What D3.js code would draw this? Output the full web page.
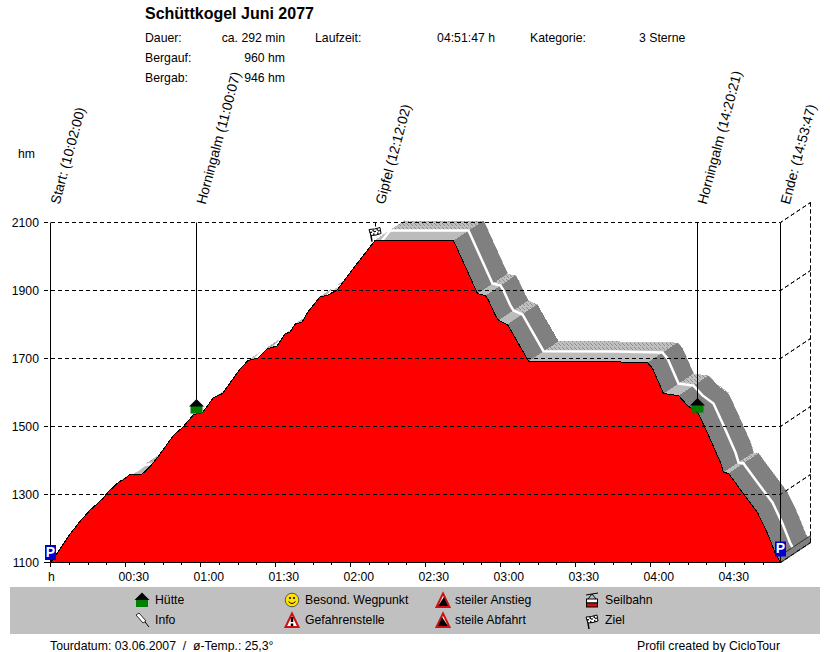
<!DOCTYPE html>
<html>
<head>
<meta charset="utf-8">
<script src="https://d3js.org/d3.v7.min.js"></script>
<style>
  html, body { margin: 0; padding: 0; background: #fff; }
  svg { display: block; }
  text { font-family: "Liberation Sans", Arial, sans-serif; font-size: 12.25px; fill: #000; white-space: pre; }
</style>
</head>
<body>
<div id="chart"></div>
<script>
// profile: minutes since start / altitude in hm
const minutes = [0, 2.2, 7.1, 11.1, 15.8, 21.1, 23.1, 27.5, 29, 31.8, 36.5, 39.8, 42.8, 49.2, 52.8, 57.2, 60.8, 65.2, 68.8, 75.8, 79, 83, 86.6, 90.6, 93.8, 95.8, 97.8, 100.6, 103, 107.8, 111, 114.6, 120.6, 129.8, 161.2, 170.8, 174, 175.2, 178, 179.2, 182.8, 191.2, 220, 238.8, 240.8, 245.2, 251.2, 254.8, 259.2, 263.2, 268, 269.2, 271.2, 276.8, 282.8, 286.8, 290, 292];
const altitude = [1100, 1122, 1176, 1215, 1254, 1289, 1308, 1338, 1343, 1359, 1359, 1382, 1409, 1474, 1497, 1535, 1541, 1585, 1597, 1669, 1694, 1701, 1728, 1737, 1772, 1778, 1801, 1807, 1837, 1881, 1887, 1901, 1960, 2047, 2047, 1891, 1885, 1871, 1826, 1812, 1800, 1692, 1691, 1688, 1671, 1597, 1591, 1562, 1538, 1474, 1394, 1365, 1362, 1306, 1247, 1185, 1126, 1100];

const altTicks = [1100, 1300, 1500, 1700, 1900, 2100];
const timeTicks = [30, 60, 90, 120, 150, 180, 210, 240, 270];
const timeLabels = ["00:30", "01:00", "01:30", "02:00", "02:30", "03:00", "03:30", "04:00", "04:30"];

// waypoints
const wpMinutes = [0, 58.3, 130.03, 258.6, 292];
const wpAlt = [1100, 1535, 2047, 1538, 1100];
const wpNames = ["Start: (10:02:00)", "Horningalm (11:00:07)", "Gipfel (12:12:02)", "Horningalm (14:20:21)", "Ende: (14:53:47)"];
const wpIcons = ["park", "hut", "flag", "hut", "park"];

const legendCol1 = [["hut", "Hütte"], ["pin", "Info"]];
const legendCol2 = [["smile", "Besond. Wegpunkt"], ["danger", "Gefahrenstelle"]];
const legendCol3 = [["up", "steiler Anstieg"], ["down", "steile Abfahrt"]];
const legendCol4 = [["lift", "Seilbahn"], ["flag", "Ziel"]];

const infoRows = [
  ["Dauer:", "ca. 292 min"],
  ["Bergauf:", "960 hm"],
  ["Bergab:", "946 hm"]
];

const width = 830, height = 652;
const depthX = 30, depthY = 20;

const x = d3.scaleLinear().domain([0, 292]).range([50.5, 780.5]);
const y = d3.scaleLinear().domain([1100, 2100]).range([562.5, 222.5]);

const svg = d3.select("#chart").append("svg").attr("width", width).attr("height", height);

// dithered light grey of the flat stretches
const defs = svg.append("defs");
const hatch = defs.append("pattern").attr("id", "hatch")
  .attr("patternUnits", "userSpaceOnUse").attr("width", 4).attr("height", 4);
hatch.append("rect").attr("width", 4).attr("height", 4).attr("fill", "#c0c0c0");
hatch.append("path").attr("d", "M0,1 h1 v1 h-1 Z M2,3 h1 v1 h-1 Z M3,0 h1 v1 h-1 Z").attr("fill", "#8c8c8c");

const profile = minutes.map((m, i) => [x(m), y(altitude[i])]);

// back wall lines
const grid = svg.append("g").attr("fill", "none").attr("stroke", "#000").attr("stroke-dasharray", "4 3");
altTicks.forEach(a => {
  grid.append("path").attr("d", `M44,${y(a)} H${x(292)} l${depthX},${-depthY}`);
});
grid.append("path").attr("d", `M${x(292) + depthX},${y(2100) - depthY} V${y(1100) - depthY}`);

svg.append("line").attr("x1", 44).attr("x2", 50).attr("y1", y(1100)).attr("y2", y(1100)).attr("stroke", "#000");

// extruded ribbon, one quad per segment, back to front
const ribbon = svg.append("g").attr("shape-rendering", "crispEdges");
const quad = (p, q, a, b) => `M${p[0] + a * depthX},${p[1] - a * depthY} L${q[0] + a * depthX},${q[1] - a * depthY} L${q[0] + b * depthX},${q[1] - b * depthY} L${p[0] + b * depthX},${p[1] - b * depthY} Z`;
profile.slice(0, -1).forEach((p, i) => {
  const q = profile[i + 1];
  const flat = Math.abs(q[1] - p[1]) / (q[0] - p[0]) < 0.6;
  if (flat) {
    // rear half dithered, front half plain
    ribbon.append("path").attr("d", quad(p, q, 0.5, 1)).attr("fill", "url(#hatch)");
    ribbon.append("path").attr("d", quad(p, q, 0, 0.5)).attr("fill", "#bcbcbc");
  } else {
    ribbon.append("path").attr("d", quad(p, q, 0, 1)).attr("fill", "#808080").attr("stroke", "#808080").attr("stroke-width", 0.5);
  }
});

// white centre line of the ribbon
const midLine = d3.line().x(d => d[0] + depthX / 2).y(d => d[1] - depthY / 2);
svg.append("path").attr("d", midLine(profile))
  .attr("fill", "none").attr("stroke", "#fff").attr("stroke-width", 2.5);

// red profile
const area = d3.area().x(d => d[0]).y0(y(1100)).y1(d => d[1]);
svg.append("path").attr("d", area(profile)).attr("fill", "#ff0000").attr("shape-rendering", "crispEdges");
svg.append("path").attr("d", d3.line()(profile)).attr("fill", "none").attr("stroke", "#000").attr("stroke-width", 1).attr("shape-rendering", "crispEdges");

// floor edge at the right
svg.append("path")
  .attr("d", `M${x(292)},${y(1100)} l${depthX},${-depthY} v-7 l${-depthX},${depthY} Z`)
  .attr("fill", "#808080").attr("stroke", "#000").attr("stroke-width", 0.6);

// gridlines seen through the red
grid.clone(true).raise();

// y axis labels
svg.append("g").selectAll("text").data(altTicks).join("text")
  .attr("x", 39).attr("y", d => y(d) + 4).attr("text-anchor", "end").text(d => d);
svg.append("text").attr("x", 18).attr("y", 158).text("hm");

// x axis
const xAxis = svg.append("g").attr("shape-rendering", "crispEdges");
xAxis.append("line").attr("x1", x(0)).attr("x2", x(292)).attr("y1", y(1100)).attr("y2", y(1100)).attr("stroke", "#000");
d3.range(0, 292, 7.5).forEach(t => {
  xAxis.append("line").attr("x1", x(t)).attr("x2", x(t)).attr("y1", y(1100))
    .attr("y2", y(1100) + (t % 30 === 0 ? 4 : 2)).attr("stroke", "#000");
});
xAxis.selectAll("text").data(timeTicks).join("text")
  .attr("x", d => x(d) - 7).attr("y", 581).text((d, i) => timeLabels[i]);
xAxis.append("text").attr("x", 48).attr("y", 581).text("h");

// waypoint stems and rotated labels
wpMinutes.forEach((m, i) => {
  const px = Math.floor(x(m)) + 0.5;
  const kind = wpIcons[i];
  const stemEnd = kind === "park" ? y(wpAlt[i]) : y(wpAlt[i]) - 14;
  svg.append("line").attr("x1", px).attr("x2", px).attr("y1", y(2100)).attr("y2", stemEnd).attr("stroke", "#000");
  svg.append("text").attr("transform", `translate(${px + 9},205) rotate(-75)`).style("font-size", "13.8px").text(wpNames[i]);
  if (kind === "hut") drawIcon(kind, px, y(wpAlt[i]) - 8);
  else if (kind === "flag") drawIcon(kind, px - 0.5, y(wpAlt[i]) - 8);
  else drawIcon(kind, px, y(wpAlt[i]) - (i === 0 ? 10 : 13.5));
});

// header
svg.append("text").attr("x", 145).attr("y", 19).style("font-size", "16px").style("font-weight", "bold").text("Schüttkogel Juni 2077");
infoRows.forEach((r, i) => {
  const ry = 42 + i * 20;
  svg.append("text").attr("x", 145).attr("y", ry).text(r[0]);
  svg.append("text").attr("x", 285).attr("y", ry).attr("text-anchor", "end").text(r[1]);
});
svg.append("text").attr("x", 315).attr("y", 42).text("Laufzeit:");
svg.append("text").attr("x", 495).attr("y", 42).attr("text-anchor", "end").text("04:51:47 h");
svg.append("text").attr("x", 530).attr("y", 42).text("Kategorie:");
svg.append("text").attr("x", 639).attr("y", 42).text("3 Sterne");

// legend
svg.append("rect").attr("x", 10).attr("y", 587).attr("width", 810).attr("height", 47).attr("fill", "#c0c0c0");
[[legendCol1, 142, 155], [legendCol2, 292, 305], [legendCol3, 443, 455], [legendCol4, 592, 605]].forEach(c => {
  c[0].forEach((row, i) => {
    const ly = 600 + i * 20;
    drawIcon(row[0], c[1], ly);
    svg.append("text").attr("x", c[2]).attr("y", ly + 4).text(row[1]);
  });
});

svg.append("text").attr("x", 50).attr("y", 650).text("Tourdatum: 03.06.2007  /  ø-Temp.: 25,3°");
svg.append("text").attr("x", 780).attr("y", 650).attr("text-anchor", "end").text("Profil created by CicloTour");

function drawIcon(kind, cx, cy) {
  const g = svg.append("g").attr("transform", `translate(${cx},${cy})`);
  if (kind === "park") {
    g.append("rect").attr("x", -5.5).attr("y", -7.5).attr("width", 11).attr("height", 15).attr("fill", "#0000d0");
    g.append("text").attr("x", 0).attr("y", 4).attr("text-anchor", "middle")
      .style("font-size", "14px").style("font-weight", "bold").style("fill", "#fff").text("P");
  } else if (kind === "hut") {
    g.append("rect").attr("x", -6).attr("y", -1).attr("width", 12).attr("height", 8).attr("fill", "#008000");
    g.append("path").attr("d", "M-7.5,0 L0,-7.5 L7.5,0 Z").attr("fill", "#000");
  } else if (kind === "flag") {
    g.append("path").attr("d", "M-3,9 L-5,-3").attr("stroke", "#000").attr("stroke-width", 1.5);
    g.append("path").attr("d", "M-6,-3 Q-1,-3 5,-5 L6,1 Q1,3 -4,3 Z").attr("fill", "#fff").attr("stroke", "#000");
    g.append("path").attr("d", "M-2,-3 L-1,3 M2,-4 L3,2 M-5,0 L5,-2").attr("stroke", "#000").attr("stroke-width", 1.3).attr("stroke-dasharray", "2 2");
  } else if (kind === "pin") {
    g.append("path").attr("d", "M-6,-5 L-3,-7 L4,1 L1,3 Z").attr("fill", "#fff").attr("stroke", "#000").attr("stroke-width", 0.8);
    g.append("path").attr("d", "M3,2 L7,7").attr("stroke", "#000");
  } else if (kind === "smile") {
    g.append("circle").attr("r", 6.8).attr("fill", "#ffe000").attr("stroke", "#555");
    g.append("circle").attr("cx", -2).attr("cy", -2).attr("r", 1).attr("fill", "#000");
    g.append("circle").attr("cx", 2).attr("cy", -2).attr("r", 1).attr("fill", "#000");
    g.append("path").attr("d", "M-3.5,1.5 Q0,5.5 3.5,1.5").attr("fill", "none").attr("stroke", "#000");
  } else if (kind === "danger") {
    g.append("path").attr("d", "M0,-6.5 L6.5,7 L-6.5,7 Z").attr("fill", "#fff").attr("stroke", "#d01010").attr("stroke-width", 2);
    g.append("path").attr("d", "M0,-3 V2 M0,3.5 V6").attr("stroke", "#000").attr("stroke-width", 2.5);
  } else if (kind === "up" || kind === "down") {
    g.append("path").attr("d", "M0,-6.5 L6.5,7 L-6.5,7 Z").attr("fill", "#fff").attr("stroke", "#d01010").attr("stroke-width", 2);
    g.append("path").attr("d", kind === "up" ? "M-5,6 L1,-3 L5,6 Z" : "M-5,6 L-1,-3 L5,6 Z").attr("fill", "#000");
  } else if (kind === "lift") {
    g.append("path").attr("d", "M-6,-5 L6,-7 M0,-6 L-4,-1 M0,-6 L4,-1").attr("stroke", "#000").attr("fill", "none");
    g.append("rect").attr("x", -5.5).attr("y", -1).attr("width", 11).attr("height", 4).attr("fill", "#fff").attr("stroke", "#000");
    g.append("rect").attr("x", -5.5).attr("y", 3).attr("width", 11).attr("height", 4).attr("fill", "#d01010").attr("stroke", "#000");
  }
}
</script>
</body>
</html>
